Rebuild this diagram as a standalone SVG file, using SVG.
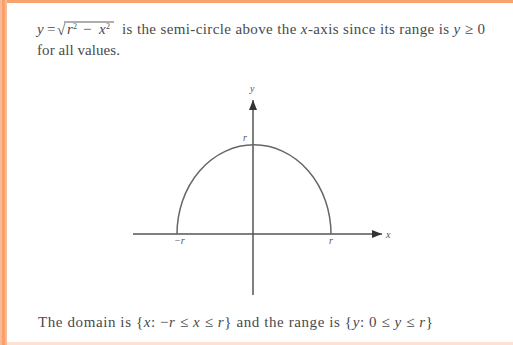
<svg xmlns="http://www.w3.org/2000/svg" width="513" height="345" viewBox="0 0 513 345">
<defs>
<style>
.t{font-family:"Liberation Serif","Times New Roman",serif;font-size:15px;fill:#4a4a4a}
.i{font-style:italic}
.sup{font-family:"Liberation Serif","Times New Roman",serif;font-size:8px;fill:#4a4a4a}
.lb{font-family:"Liberation Serif","Times New Roman",serif;font-size:10px;font-style:italic;fill:#555}
.ax{stroke:#555;stroke-width:1.5;fill:none}
.cv{stroke:#666;stroke-width:1.5;fill:none}
</style>
<marker id="ah" viewBox="0 0 10 8" refX="10" refY="4" markerWidth="10" markerHeight="8" markerUnits="userSpaceOnUse" orient="auto">
<path d="M0,0 L10,4 L0,8 Z" fill="#333"/>
</marker>
</defs>
<rect width="513" height="345" fill="#fff"/>
<rect x="0" y="0" width="513" height="3" fill="#f6a36e"/>
<rect x="0" y="0" width="7" height="345" fill="#f9b994"/>
<rect x="2" y="0" width="3" height="345" fill="#f6a06c"/>
<rect x="7" y="342" width="506" height="3" fill="#fde2d3"/>

<g id="caption-top">
<text class="t i" x="37" y="34">y</text>
<text class="t" x="47" y="34">=</text>
<text class="t" x="57" y="35">√</text>
<line x1="64" y1="22" x2="114" y2="22" stroke="#4a4a4a" stroke-width="0.9"/>
<text class="t i" x="67" y="34">r</text>
<text class="sup" x="73" y="29">2</text>
<text class="t" x="83" y="34">−</text>
<text class="t i" x="99" y="34">x</text>
<text class="sup" x="106" y="29">2</text>
<text class="t" x="122" y="34" textLength="363" lengthAdjust="spacing">is the semi-circle above the <tspan class="i">x</tspan>-axis since its range is <tspan class="i">y</tspan> ≥ 0</text>
<text class="t" x="37" y="55" textLength="83" lengthAdjust="spacing">for all values.</text>
</g>

<g id="connectors">
<line class="ax" x1="133" y1="234" x2="382" y2="234" marker-end="url(#ah)"/>
<line class="ax" x1="253" y1="295" x2="253" y2="100" marker-end="url(#ah)"/>
</g>

<g id="semicircle">
<path class="cv" d="M177,234 A76,88 0 0 1 331,234"/>
</g>

<g id="labels">
<text class="lb" x="250" y="92">y</text>
<text class="lb" x="386" y="238">x</text>
<text class="lb" x="243" y="141">r</text>
<text class="lb" x="174" y="244">−r</text>
<text class="lb" x="329" y="244">r</text>
</g>

<g id="caption-bottom">
<text class="t" x="38" y="327" textLength="395" lengthAdjust="spacing">The domain is {<tspan class="i">x</tspan>: −<tspan class="i">r</tspan> ≤ <tspan class="i">x</tspan> ≤ <tspan class="i">r</tspan>} and the range is {<tspan class="i">y</tspan>: 0 ≤ <tspan class="i">y</tspan> ≤ <tspan class="i">r</tspan>}</text>
</g>
</svg>
